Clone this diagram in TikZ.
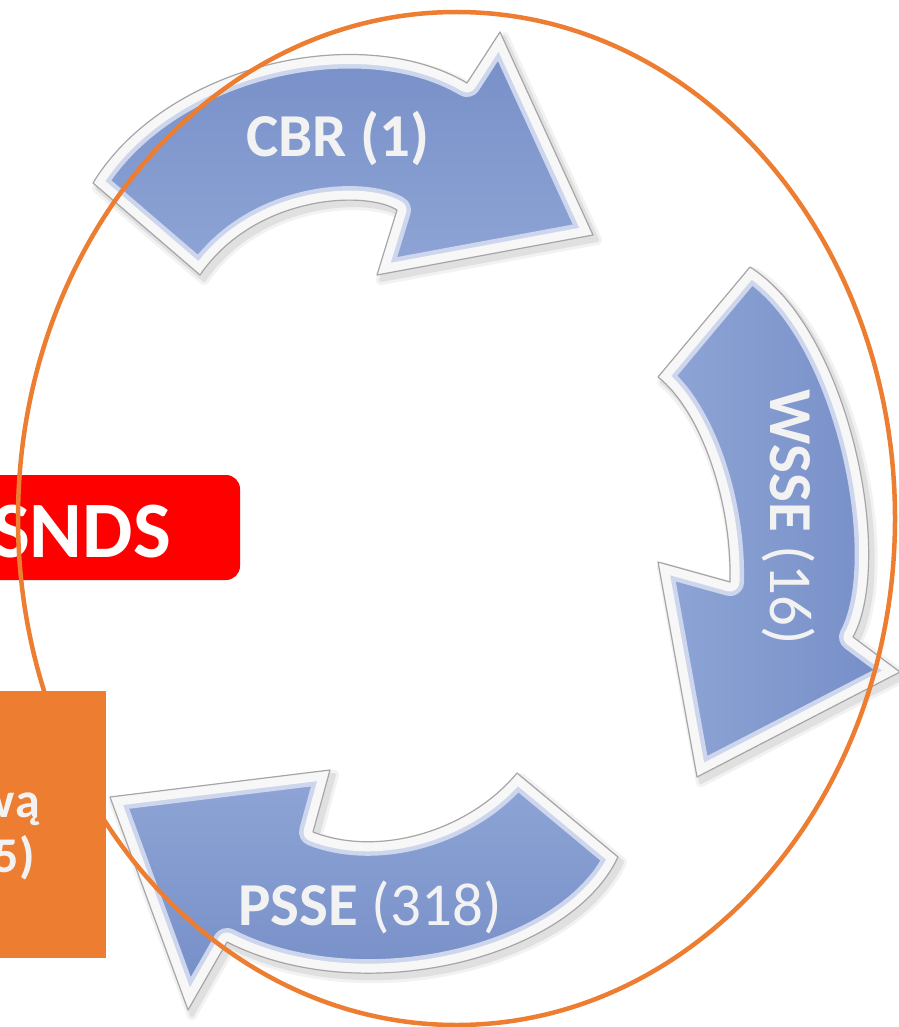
\documentclass[tikz,border=0pt]{standalone}
\usepackage{fontspec}
\setmainfont{Carlito}
\definecolor{arrblue}{RGB}{116,141,198}
\definecolor{arrlight}{RGB}{143,165,214}
\definecolor{ringorange}{RGB}{237,125,49}
\definecolor{labelwhite}{RGB}{242,242,242}
\definecolor{sndsred}{RGB}{255,0,0}
\def\pathCBR{(93,183) .. controls (165,65) and (360,20) .. (467,83) -- (500,32) -- (593,235) -- (377,275) -- (397,210) .. controls (365,190) and (255,195) .. (200,275) -- cycle}
\def\pathWSSE{(750,267) .. controls (850,330) and (895,560) .. (853,637) -- (900,672) -- (697,777) -- (658,562) -- (730,582) .. controls (732,500) and (700,410) .. (658,377) -- cycle}
\def\pathPSSE{(517,773) -- (618,857) .. controls (570,960) and (360,1010) .. (227,942) -- (188,1010) -- (110,797) -- (330,770) -- (313,832) .. controls (380,858) and (470,830) .. (517,773) -- cycle}
\newcommand\cyclearrow[2]{%
  \begin{scope}[shift={(4,5)}]
    \draw[black!5, fill=black!5, line width=10, line join=round] #1;
    \draw[black!12, fill=black!12, line width=4, line join=round] #1;
  \end{scope}
  \begin{scope}
    \clip #1;
    \shade[#2] #1;
    \draw[white!55!arrlight, line width=28, line join=round] #1;
    \draw[white!97!black, line width=19, line join=round] #1;
  \end{scope}
  \draw[black!35, line width=1.2, line join=round] #1;
}
\tikzset{
  lbl/.style={text=labelwhite, font=\fontsize{61}{70}\selectfont, inner sep=0pt},
  boxtext/.style={text=labelwhite, font=\bfseries\fontsize{50}{60}\selectfont, inner sep=0pt},
  ring/.style={draw=ringorange, line width=4.5pt}
}
\begin{document}
\begin{tikzpicture}[x=1pt,y=-1pt]
\useasboundingbox (0,0) rectangle (898,1027);
\fill[white] (0,0) rectangle (898,1027);

% arrows
\cyclearrow{\pathCBR}{top color=arrblue, bottom color=arrlight}
\cyclearrow{\pathWSSE}{left color=arrlight, right color=arrblue}
\cyclearrow{\pathPSSE}{top color=arrlight, bottom color=arrblue}

\node[lbl, anchor=base] (cbr) at (338,157) {\bfseries CBR (1)};
\node[lbl, anchor=base, rotate=-90] (wsse) at (770,517) {\textbf{WSSE} (16)};
\node[lbl, anchor=base] (psse) at (370,925) {\textbf{PSSE} (318)};

% red SNDS box
\fill[sndsred, rounded corners=14pt] (-40,475) rectangle (240,580);
\node[anchor=base east, text=white, font=\bfseries\fontsize{80}{90}\selectfont, inner sep=0pt] (snds) at (171,557) {SNDS};

% orange box
\fill[ringorange] (-20,691) rectangle (106,958);
\node[boxtext, anchor=base east] (wa) at (40,817) {wą};
\node[boxtext, anchor=base east] (five) at (35,872) {5)};

% ellipse ring
\draw[ring] (456.5,518.5) ellipse [x radius=438.5, y radius=506.5];
\end{tikzpicture}
\end{document}
